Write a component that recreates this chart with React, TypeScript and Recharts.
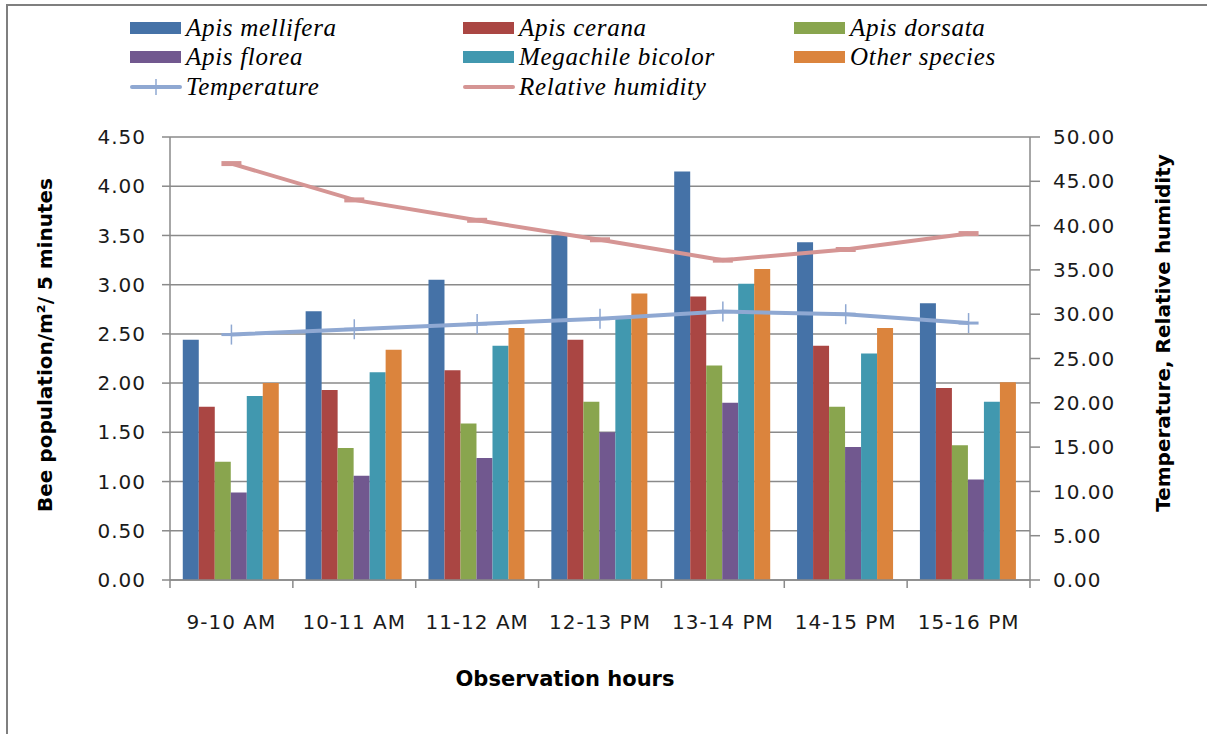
import { ComposedChart, Bar, Line, XAxis, YAxis, CartesianGrid, Label } from "recharts";

const hours = ["9-10 AM", "10-11 AM", "11-12 AM", "12-13 PM", "13-14 PM", "14-15 PM", "15-16 PM"];

const apisMellifera = [2.44, 2.73, 3.05, 3.5, 4.15, 3.43, 2.81];
const apisCerana = [1.76, 1.93, 2.13, 2.44, 2.88, 2.38, 1.95];
const apisDorsata = [1.2, 1.34, 1.59, 1.81, 2.18, 1.76, 1.37];
const apisFlorea = [0.89, 1.06, 1.24, 1.5, 1.8, 1.35, 1.02];
const megachileBicolor = [1.87, 2.11, 2.38, 2.65, 3.01, 2.3, 1.81];
const otherSpecies = [2.0, 2.34, 2.56, 2.91, 3.16, 2.56, 2.01];

const temperature = [27.7, 28.3, 28.9, 29.5, 30.3, 30.0, 29.0];
const relativeHumidity = [47.0, 42.9, 40.6, 38.4, 36.1, 37.3, 39.1];

const beeTicks = [0, 0.5, 1, 1.5, 2, 2.5, 3, 3.5, 4, 4.5];
const climateTicks = [0, 5, 10, 15, 20, 25, 30, 35, 40, 45, 50];

const species = [
  { key: "mellifera", name: "Apis mellifera", values: apisMellifera, color: "#4572A7" },
  { key: "cerana", name: "Apis cerana", values: apisCerana, color: "#AA4643" },
  { key: "dorsata", name: "Apis dorsata", values: apisDorsata, color: "#89A54E" },
  { key: "florea", name: "Apis florea", values: apisFlorea, color: "#71588F" },
  { key: "megachile", name: "Megachile bicolor", values: megachileBicolor, color: "#4198AF" },
  { key: "other", name: "Other species", values: otherSpecies, color: "#DB843D" },
];

const TEMP_COLOR = "#8FA8D2";
const RH_COLOR = "#D59594";

const data = hours.map((h, i) => {
  const row: Record<string, string | number> = { hour: h, temp: temperature[i], rh: relativeHumidity[i] };
  species.forEach((s) => (row[s.key] = s.values[i]));
  return row;
});

// plot box
const W = 1207;
const H = 734;
const PLOT_L = 170;
const PLOT_R = 1030;
const PLOT_T = 137;
const PLOT_B = 580;
const band = (PLOT_R - PLOT_L) / hours.length;

const tickFont = { fontFamily: "DejaVu Sans", fontSize: 20, fill: "#1a1a1a", letterSpacing: 1 };
const titleFont = { fontFamily: "DejaVu Sans", fontSize: 20, fontWeight: "bold" as const, fill: "#000" };
const AXIS = "#8a8a8a";

function HourTick(props: any) {
  const { x, payload, index } = props;
  return (
    <g>
      <line x1={x - band / 2} x2={x - band / 2} y1={PLOT_B} y2={PLOT_B + 8} stroke={AXIS} strokeWidth={1.5} />
      {index === hours.length - 1 && (
        <line x1={x + band / 2} x2={x + band / 2} y1={PLOT_B} y2={PLOT_B + 8} stroke={AXIS} strokeWidth={1.5} />
      )}
      <text x={x} y={PLOT_B + 49} textAnchor="middle" {...tickFont}>
        {payload.value}
      </text>
    </g>
  );
}

function PlusDot(props: any) {
  const { cx, cy, index } = props;
  return (
    <g key={"t" + index}>
      <line x1={cx - 10} x2={cx + 10} y1={cy} y2={cy} stroke={TEMP_COLOR} strokeWidth={3} />
      <line x1={cx} x2={cx} y1={cy - 10} y2={cy + 10} stroke={TEMP_COLOR} strokeWidth={1.5} />
    </g>
  );
}

function DashDot(props: any) {
  const { cx, cy, index } = props;
  return <line key={"r" + index} x1={cx - 10} x2={cx + 10} y1={cy} y2={cy} stroke={RH_COLOR} strokeWidth={5} />;
}

const legendItems = [
  ...species.map((s) => ({ name: s.name, color: s.color, type: "bar" })),
  { name: "Temperature", color: TEMP_COLOR, type: "plus" },
  { name: "Relative humidity", color: RH_COLOR, type: "line" },
];
const legendCols = [130, 463, 794];
const legendRows = [27.5, 57, 87];

function ChartLegend() {
  return (
    <>
      {legendItems.map((item, i) => {
        const left = legendCols[i % 3];
        const top = legendRows[Math.floor(i / 3)];
        return (
          <div key={item.name} style={{ position: "absolute", left, top: top - 16, height: 32, display: "flex", alignItems: "center" }}>
            <svg width={56} height={32} style={{ display: "block" }}>
              {item.type === "bar" && <rect x={0} y={10} width={51} height={12} fill={item.color} />}
              {item.type !== "bar" && (
                <line x1={2} x2={50} y1={16} y2={16} stroke={item.color} strokeWidth={4} strokeLinecap="round" />
              )}
              {item.type === "plus" && <line x1={26} x2={26} y1={8} y2={24} stroke={item.color} strokeWidth={1.5} />}
            </svg>
            <span
              style={{
                fontFamily: "Liberation Serif",
                fontStyle: "italic",
                fontSize: 25,
                letterSpacing: 0.7,
                color: "#000",
                whiteSpace: "nowrap",
              }}
            >
              {item.name}
            </span>
          </div>
        );
      })}
    </>
  );
}

export default function App() {
  return (
    <div style={{ position: "absolute", left: 0, top: 0, width: W, height: H, background: "#fff" }}>
      <div style={{ position: "absolute", left: 6, top: 4, right: 0, bottom: 0, borderTop: "2px solid #7f7f7f", borderLeft: "2px solid #7f7f7f" }} />
      <ComposedChart
        width={W}
        height={H}
        data={data}
        margin={{ top: PLOT_T, left: PLOT_L - 150, right: W - PLOT_R - 150, bottom: H - PLOT_B - 60 }}
        barCategoryGap="10.4%"
        barGap={0}
      >
        <CartesianGrid yAxisId="bee" vertical={false} stroke={AXIS} strokeWidth={1.5} />
        <XAxis
          dataKey="hour"
          height={60}
          tickLine={false}
          axisLine={{ stroke: AXIS, strokeWidth: 1.5 }}
          tick={<HourTick />}
          interval={0}
        >
          <Label
            content={() => (
              <text x={565} y={686} textAnchor="middle" {...titleFont} fontSize={21}>
                Observation hours
              </text>
            )}
          />
        </XAxis>
        <YAxis
          yAxisId="bee"
          width={150}
          domain={[0, 4.5]}
          ticks={beeTicks}
          tickFormatter={(v: number) => v.toFixed(2)}
          tickSize={8}
          tickMargin={16}
          tick={tickFont}
          axisLine={{ stroke: AXIS, strokeWidth: 1.5 }}
          tickLine={{ stroke: AXIS, strokeWidth: 1.5 }}
          interval={0}
        >
          <Label
            content={() => (
              <text x={52} y={345} textAnchor="middle" transform="rotate(-90 52 345)" {...titleFont}>
                Bee population/m²/ 5 minutes
              </text>
            )}
          />
        </YAxis>
        <YAxis
          yAxisId="climate"
          orientation="right"
          width={150}
          domain={[0, 50]}
          ticks={climateTicks}
          tickFormatter={(v: number) => v.toFixed(2)}
          tickSize={10}
          tickMargin={13}
          tick={{ ...tickFont, textAnchor: "start" }}
          axisLine={{ stroke: AXIS, strokeWidth: 1.5 }}
          tickLine={{ stroke: AXIS, strokeWidth: 1.5 }}
          interval={0}
        >
          <Label
            content={() => (
              <text x={1170} y={333} textAnchor="middle" transform="rotate(-90 1170 333)" {...titleFont}>
                Temperature, Relative humidity
              </text>
            )}
          />
        </YAxis>
        {species.map((s) => (
          <Bar key={s.key} yAxisId="bee" dataKey={s.key} name={s.name} fill={s.color} isAnimationActive={false} />
        ))}
        <Line
          yAxisId="climate"
          dataKey="temp"
          name="Temperature"
          stroke={TEMP_COLOR}
          strokeWidth={4}
          dot={<PlusDot />}
          activeDot={false}
          isAnimationActive={false}
        />
        <Line
          yAxisId="climate"
          dataKey="rh"
          name="Relative humidity"
          stroke={RH_COLOR}
          strokeWidth={4}
          dot={<DashDot />}
          activeDot={false}
          isAnimationActive={false}
        />
      </ComposedChart>
      <ChartLegend />
    </div>
  );
}
